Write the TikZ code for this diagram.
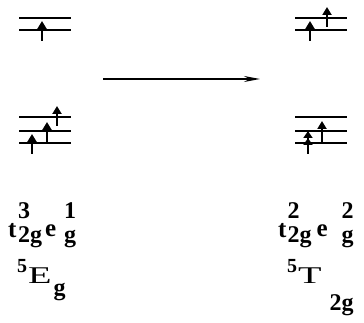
\documentclass[tikz,border=0pt]{standalone}
\usepackage{fontspec}
\usepackage{graphicx}
\setmainfont{Liberation Serif}
\usetikzlibrary{arrows.meta}
\newcommand{\bigf}{\fontsize{25}{25}\selectfont\bfseries}
\newcommand{\smf}{\fontsize{24}{24}\selectfont\bfseries}
\newcommand{\tinyf}{\fontsize{20}{20}\selectfont\bfseries}
\newcommand{\capf}{\fontsize{24}{24}\selectfont\mdseries}
\newcommand{\supsubx}[2]{\rlap{\raisebox{19pt}{\smf #1}}\raisebox{-5pt}{\smf #2}}
\begin{document}
\begin{tikzpicture}[x=1pt,y=-1pt,
  lvl/.style={line width=2.3pt},
  el/.style={line width=2.1pt,-{Triangle[length=8pt,width=9pt]}},
  lbl/.style={anchor=base west,inner sep=0pt,font=\bigf}]
\useasboundingbox (0,0) rectangle (364,323);
% left top
\draw[lvl] (19,18) -- (71,18);
\draw[lvl] (19,30) -- (71,30);
\draw[el] (42,41) -- (42,21);
% left bottom
\draw[lvl] (19,117) -- (71,117);
\draw[lvl] (19,131) -- (71,131);
\draw[lvl] (19,143) -- (71,143);
\draw[el] (32,154) -- (32,134);
\draw[el] (47,143) -- (47,122);
\draw[el] (57,126) -- (57,106);
% right top
\draw[lvl] (295,18) -- (347,18);
\draw[lvl] (295,30) -- (347,30);
\draw[el] (310,41) -- (310,21);
\draw[el] (327,27) -- (327,7);
% right bottom
\draw[lvl] (295,117) -- (347,117);
\draw[lvl] (295,131) -- (347,131);
\draw[lvl] (295,143) -- (347,143);
\draw[line width=2.1pt,-{Triangle[length=7pt,width=9pt]Triangle[length=7pt,width=9pt]}] (308,154) -- (308,131);
\draw[el] (322,143) -- (322,121);
% transition arrow
\coordinate (ta) at (103,79);
\coordinate (tb) at (260,79);
\draw[line width=1.6pt,-{Stealth[length=16pt,width=6pt]}] (ta) -- (tb);
% labels
\node[lbl] (c1) at (8,237) {t\kern1.5pt\supsubx{3}{2g}\kern3pt\raisebox{1pt}{e}\kern8pt\supsubx{1}{g}};
\node[lbl] (s1) at (17,283) {\raisebox{11pt}{\tinyf 5}\kern1pt\scalebox{1.6}[1]{\capf E}\kern2pt\raisebox{-12pt}{\smf g}};
\node[lbl] (c2) at (278,237) {t\kern1pt\supsubx{2}{2g}\kern5pt\raisebox{1pt}{e}\kern14pt\supsubx{2}{g}};
\node[lbl] (s2) at (287,283) {\raisebox{11pt}{\tinyf 5}\kern1pt\scalebox{1.6}[1]{\capf T}\kern8pt\raisebox{-28pt}{\smf 2g}};
\end{tikzpicture}
\end{document}
